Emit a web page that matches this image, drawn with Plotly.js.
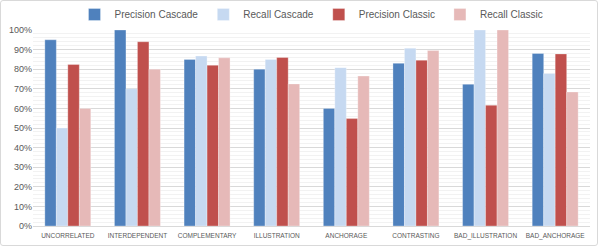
<!DOCTYPE html>
<html><head><meta charset="utf-8">
<script src="https://cdn.plot.ly/plotly-3.0.1.min.js"></script>
<style>
html,body{margin:0;padding:0;background:#fff;}
#wrap{position:relative;width:598px;height:246px;}
#chart{width:598px;height:246px;}
#frame{position:absolute;left:0;top:0;width:596px;height:244px;border:1px solid #d9d9d9;border-radius:3px;pointer-events:none;}
</style></head>
<body><div id="wrap"><div id="chart"></div><div id="frame"></div></div>
<script>
const categories = ["UNCORRELATED","INTERDEPENDENT","COMPLEMENTARY","ILLUSTRATION","ANCHORAGE","CONTRASTING","BAD_ILLUSTRATION","BAD_ANCHORAGE"];
const precisionCascade = [95, 100, 85, 80, 60, 83, 72.3, 88];
const recallCascade    = [50, 70, 86.7, 85, 80.8, 90.7, 100, 77.8];
const precisionClassic = [82.4, 94, 82, 86, 54.8, 84.6, 61.6, 87.8];
const recallClassic    = [60, 80, 85.8, 72.5, 76.5, 89.5, 100, 68.4];
const seriesNames = ["Precision Cascade","Recall Cascade","Precision Classic","Recall Classic"];
const seriesColors = ["#4F81BD","#C6D9F1","#C0504D","#E6B9B8"];
const seriesData = [precisionCascade, recallCascade, precisionClassic, recallClassic];

const traces = seriesData.map((d,i)=>({
  type:'bar', x:categories, y:d, name:seriesNames[i],
  marker:{color:seriesColors[i], line:{color:'rgba(255,255,255,0.6)', width:0.5}},
  hoverinfo:'none'
}));

const layout = {
  width:598, height:246,
  margin:{l:33, r:8, t:30, b:20},
  paper_bgcolor:'#fff', plot_bgcolor:'#fff',
  font:{family:'Liberation Sans, Arial, sans-serif', color:'#595959'},
  barmode:'group', bargap:0.34, bargroupgap:0,
  showlegend:true,
  legend:{orientation:'h', x:0.5, xanchor:'center', y:1.0, yref:'container', yanchor:'top',
          font:{size:10, color:'#595959'}, itemwidth:30, traceorder:'normal'},
  xaxis:{type:'category', tickfont:{size:6.5, color:'#595959'}, showline:true, linecolor:'#d9d9d9', linewidth:1,
         ticks:'', showgrid:false, zeroline:false, fixedrange:true, ticklabelstandoff:3},
  yaxis:{range:[0,100], dtick:10, ticksuffix:'%', tickfont:{size:9, color:'#595959'},
         showgrid:true, gridcolor:'#d9d9d9', gridwidth:1, zeroline:false, showline:false, ticks:'',
         minor:{dtick:2, showgrid:true, gridcolor:'#f2f2f2', gridwidth:1},
         fixedrange:true}
};
Plotly.newPlot('chart', traces, layout, {displayModeBar:false, staticPlot:true});
</script></body></html>
